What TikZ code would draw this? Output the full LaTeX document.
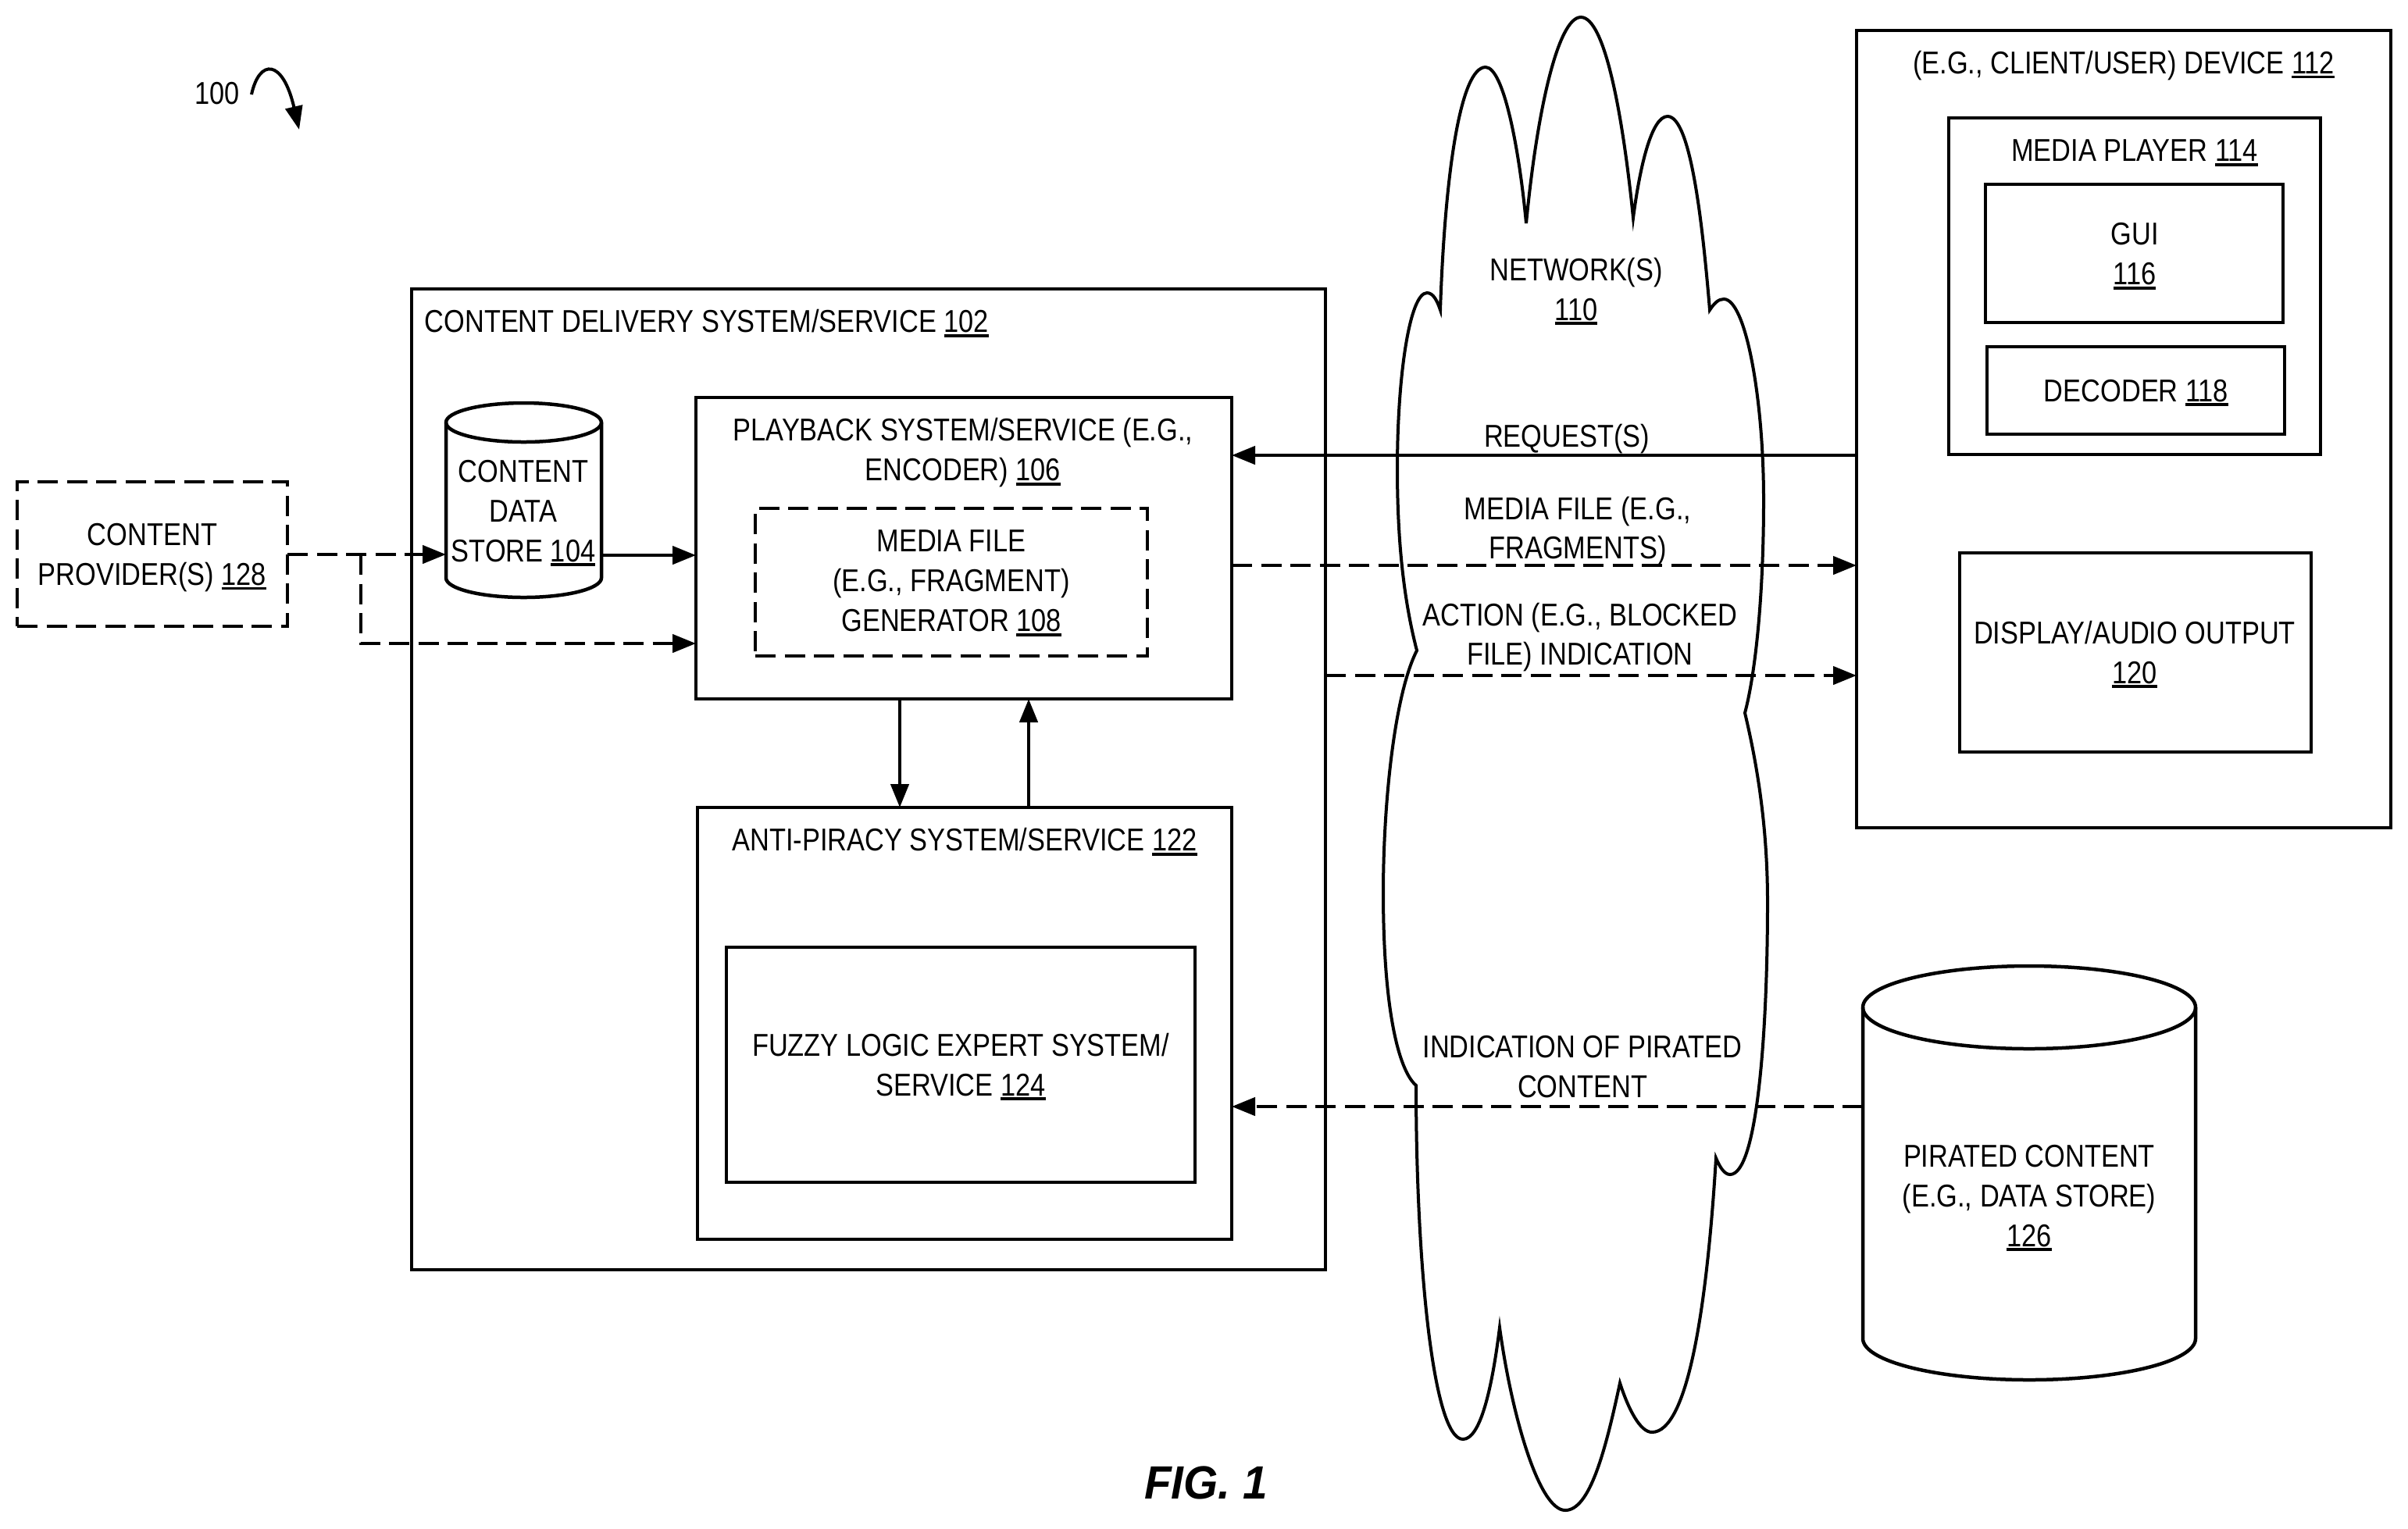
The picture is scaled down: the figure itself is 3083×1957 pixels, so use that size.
\documentclass[tikz,border=0pt]{standalone}
\usepackage{fontspec}
\setmainfont[FakeStretch=0.85]{Liberation Sans}
\newfontfamily\figfont[FakeStretch=0.95]{Liberation Sans}
\usetikzlibrary{arrows.meta,
                positioning}
\newcommand\UL[1]{\setbox0\hbox{#1}\rlap{\rule[-0.6mm]{\wd0}{0.37mm}}\box0}
% outline of a drum: node, x radius, y radius, length of the side
\newcommand\DrumOutline[4]{%
  \draw[line width=0.45mm] (#1.north west) ++(0,#3)
      arc[start angle=180, end angle=360, x radius=#2, y radius=#3]
      -- ++(0,#4)
      arc[start angle=0, end angle=180, x radius=#2, y radius=#3] -- cycle;
  \draw[line width=0.45mm] (#1.north west) ++(0,#3)
      arc[start angle=180, end angle=0, x radius=#2, y radius=#3];
}

\begin{document}
\begin{tikzpicture}[
   x = 0.1mm, y = -0.1mm,
  BX/.style = {draw, line width=0.45mm, inner sep=0pt, outer sep=0pt},
 BXD/.style = {BX, dash pattern=on 2.6mm off 1.15mm},
DRUM/.style = {inner sep=0pt, outer sep=0pt},
 TXT/.style = {align=center, inner sep=0pt, font=\fontsize{11.5}{14.5}\selectfont},
 ARR/.style = {line width=0.45mm, -{Triangle[length=3mm,width=2.3mm]}},
ARRD/.style = {ARR, dash pattern=on 2.6mm off 1.15mm}
                        ]
\useasboundingbox (0,0) rectangle (3083,1957);
% reference number
\node (fig) [TXT] at (278,120) {100};
\coordinate (figA) at (322,121);
\coordinate (figB) at (383,166);
\draw[line width=0.4mm, -{Triangle[length=3mm,width=2.2mm]}]
    (figA) .. controls (332,75) and (362,75) .. (figB);
% content delivery side
\node (cds) [BX, minimum width=117mm, minimum height=125.6mm, anchor=north west] at (527,370) {};
\node (cdsT) [TXT, anchor=west] at (543,414) {CONTENT DELIVERY SYSTEM/SERVICE \UL{102}};
\node (pb) [BX, minimum width=68.6mm, minimum height=38.6mm, anchor=north west] at (891,509) {};
\node (pbT) [TXT] at (1233,580) {PLAYBACK SYSTEM/SERVICE (E.G.,\\ENCODER) \UL{106}};
\node (mfg) [BXD, minimum width=50.2mm, minimum height=18.9mm, anchor=north west] at (967,651) {};
\node (mfgT) [TXT] at (1218,747) {MEDIA FILE\\(E.G., FRAGMENT)\\GENERATOR \UL{108}};
\node (ap) [BX, minimum width=68.4mm, minimum height=55.3mm, anchor=north west] at (893,1034) {};
\node (apT) [TXT] at (1235,1078) {ANTI-PIRACY SYSTEM/SERVICE \UL{122}};
\node (fz) [BX, minimum width=60mm, minimum height=30.1mm, anchor=north west] at (930,1213) {};
\node (fzT) [TXT] at (1230,1366) {FUZZY LOGIC EXPERT SYSTEM/\\SERVICE \UL{124}};
\node (cstore) [DRUM, minimum width=19.9mm, minimum height=24.9mm] at (670.5,640.5) {};
\DrumOutline{cstore}{99.5}{25}{199}
\node (cstoreT) [TXT] at (670,657) {CONTENT\\DATA\\STORE \UL{104}};
% provider
\node (prov) [BXD, minimum width=34.6mm, minimum height=18.5mm, anchor=north west] at (22,617) {};
\node (provT) [TXT] at (195,714) {CONTENT\\PROVIDER(S) \UL{128}};
% network
\draw[line width=0.4mm]
    (1844,397) .. controls (1850,220) and (1870,86) .. (1902,86)
    .. controls (1925,86) and (1945,190) .. (1954,286)
    .. controls (1968,140) and (1995,22) .. (2024,22)
    .. controls (2055,22) and (2078,150) .. (2091,279)
    .. controls (2100,210) and (2115,149) .. (2135,149)
    .. controls (2165,149) and (2180,290) .. (2189,397)
    .. controls (2195,388) and (2200,383) .. (2207,383)
    .. controls (2235,383) and (2258,510) .. (2258,640)
    .. controls (2258,760) and (2248,860) .. (2234,913)
    .. controls (2250,980) and (2263,1060) .. (2263,1155)
    .. controls (2263,1320) and (2250,1504) .. (2215,1504)
    .. controls (2208,1504) and (2202,1495) .. (2197,1483)
    .. controls (2185,1680) and (2160,1834) .. (2115,1834)
    .. controls (2100,1834) and (2085,1805) .. (2074,1771)
    .. controls (2055,1860) and (2035,1934) .. (2004,1934)
    .. controls (1970,1934) and (1935,1810) .. (1920,1700)
    .. controls (1910,1780) and (1895,1843) .. (1873,1843)
    .. controls (1835,1843) and (1813,1620) .. (1813,1390)
    .. controls (1790,1370) and (1771,1290) .. (1771,1143)
    .. controls (1771,1030) and (1785,890) .. (1814,833)
    .. controls (1795,760) and (1789,680) .. (1789,600)
    .. controls (1789,480) and (1805,375) .. (1827,375)
    .. controls (1835,375) and (1840,385) .. (1844,397) -- cycle;
\node (net) [TXT] at (2018,373) {NETWORK(S)\\\UL{110}};
\node (reqT) [TXT] at (2006,562) {REQUEST(S)};
\node (mfT) [TXT] at (2020,680) {MEDIA FILE (E.G.,\\FRAGMENTS)};
\node (actT) [TXT] at (2023,816) {ACTION (E.G., BLOCKED\\FILE) INDICATION};
\node (indT) [TXT] at (2026,1366) {INDICATION OF PIRATED\\CONTENT};
% device side
\node (dev) [BX, minimum width=68.4mm, minimum height=102.1mm, anchor=north west] at (2377,39) {};
\node (devT) [TXT] at (2719,84) {(E.G., CLIENT/USER) DEVICE \UL{112}};
\node (mp) [BX, minimum width=47.6mm, minimum height=43.1mm, anchor=north west] at (2495,151) {};
\node (mpT) [TXT] at (2733,196) {MEDIA PLAYER \UL{114}};
\node (gui) [BX, minimum width=38.1mm, minimum height=17.7mm, anchor=north west] at (2542,236) {};
\node (guiT) [TXT] at (2733,328) {GUI\\\UL{116}};
\node (dec) [BX, minimum width=38.1mm, minimum height=11.2mm, anchor=north west] at (2544,444) {};
\node (decT) [TXT] at (2735,503) {DECODER \UL{118}};
\node (disp) [BX, minimum width=45mm, minimum height=25.5mm, anchor=north west] at (2509,708) {};
\node (dispT) [TXT] at (2733,838) {DISPLAY/AUDIO OUTPUT\\\UL{120}};
% pirated content
\node (pir) [DRUM, minimum width=42.6mm, minimum height=53mm] at (2598,1502) {};
\DrumOutline{pir}{213}{53}{424}
\node (pirT) [TXT] at (2598,1534) {PIRATED CONTENT\\(E.G., DATA STORE)\\\UL{126}};
\node (figT) [font=\fontsize{17}{17}\selectfont\figfont\bfseries\itshape, inner sep=0pt] at (1544,1899) {FIG. 1};
% connectors
\coordinate (j1) at (462,710);
\coordinate (j2) at (462,824);
\draw[ARRD] (prov.east |- j1) -- (cstore.west |- j1);
\draw[ARRD] (j1) -- (j2) -- (pb.west |- j2);
\draw[ARR] (cstore.east |- 0,711) -- (pb.west |- 0,711);
\draw[ARR] (pb.south -| 1152,0) -- (ap.north -| 1152,0);
\draw[ARR] (ap.north -| 1317,0) -- (pb.south -| 1317,0);
\draw[ARR] (dev.west |- 0,583) -- (pb.east |- 0,583);
\draw[ARRD] (pb.east |- 0,724) -- (dev.west |- 0,724);
\draw[ARRD] (cds.east |- 0,865) -- (dev.west |- 0,865);
\draw[ARRD] (pir.west |- 0,1417) -- (ap.east |- 0,1417);
\end{tikzpicture}
\end{document}
